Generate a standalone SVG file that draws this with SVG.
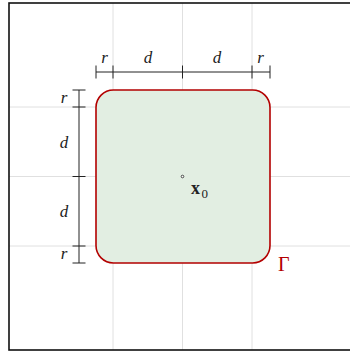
<svg xmlns="http://www.w3.org/2000/svg" width="350" height="352" viewBox="0 0 350 352">
<style>
.grid{stroke:#e0e0e0;stroke-width:1;fill:none}
.dim{stroke:#222;stroke-width:1;fill:none}
.lbl{font-family:"Liberation Serif","DejaVu Serif",serif;font-style:italic;font-size:17px;fill:#222;text-anchor:middle}
</style>
<rect x="0" y="0" width="350" height="352" fill="#fff"/>
<g id="grid">
<line class="grid" x1="113" y1="3" x2="113" y2="350"/>
<line class="grid" x1="182.5" y1="3" x2="182.5" y2="350"/>
<line class="grid" x1="252" y1="3" x2="252" y2="350"/>
<line class="grid" x1="9" y1="107" x2="350" y2="107"/>
<line class="grid" x1="9" y1="176.5" x2="350" y2="176.5"/>
<line class="grid" x1="9" y1="246" x2="350" y2="246"/>
</g>
<rect id="frame" x="9" y="3" width="345" height="347" fill="none" stroke="#111" stroke-width="1.6"/>
<g id="domain">
<rect x="96" y="90" width="174" height="173" rx="17.4" ry="17.4" fill="#e2eee2" stroke="#b30000" stroke-width="1.6"/>
<text x="278" y="271" font-family="'Liberation Serif','DejaVu Serif',serif" font-size="20" fill="#b30000">Γ</text>
</g>
<g id="center">
<circle cx="182.5" cy="176.5" r="1.3" fill="#fff" stroke="#222" stroke-width="0.8"/>
<text x="191" y="194" font-family="'Liberation Serif','DejaVu Serif',serif" font-weight="bold" font-size="18" fill="#222">x</text>
<text x="201.5" y="198" font-family="'Liberation Serif','DejaVu Serif',serif" font-size="13" fill="#222">0</text>
</g>
<g id="connectors">
<line class="dim" x1="96" y1="72" x2="270" y2="72"/>
<line class="dim" x1="96" y1="65.5" x2="96" y2="78.5"/>
<line class="dim" x1="113" y1="65.5" x2="113" y2="78.5"/>
<line class="dim" x1="182.5" y1="65.5" x2="182.5" y2="78.5"/>
<line class="dim" x1="252" y1="65.5" x2="252" y2="78.5"/>
<line class="dim" x1="270" y1="65.5" x2="270" y2="78.5"/>
<line class="dim" x1="79" y1="90" x2="79" y2="263"/>
<line class="dim" x1="72.5" y1="90" x2="85.5" y2="90"/>
<line class="dim" x1="72.5" y1="107" x2="85.5" y2="107"/>
<line class="dim" x1="72.5" y1="176.5" x2="85.5" y2="176.5"/>
<line class="dim" x1="72.5" y1="246" x2="85.5" y2="246"/>
<line class="dim" x1="72.5" y1="263" x2="85.5" y2="263"/>
</g>
<g id="labels">
<text class="lbl" x="104.5" y="63">r</text>
<text class="lbl" x="148" y="63">d</text>
<text class="lbl" x="217" y="63">d</text>
<text class="lbl" x="260.5" y="63">r</text>
<text class="lbl" x="64" y="103">r</text>
<text class="lbl" x="64" y="148">d</text>
<text class="lbl" x="64" y="217">d</text>
<text class="lbl" x="64" y="259">r</text>
</g>
</svg>
